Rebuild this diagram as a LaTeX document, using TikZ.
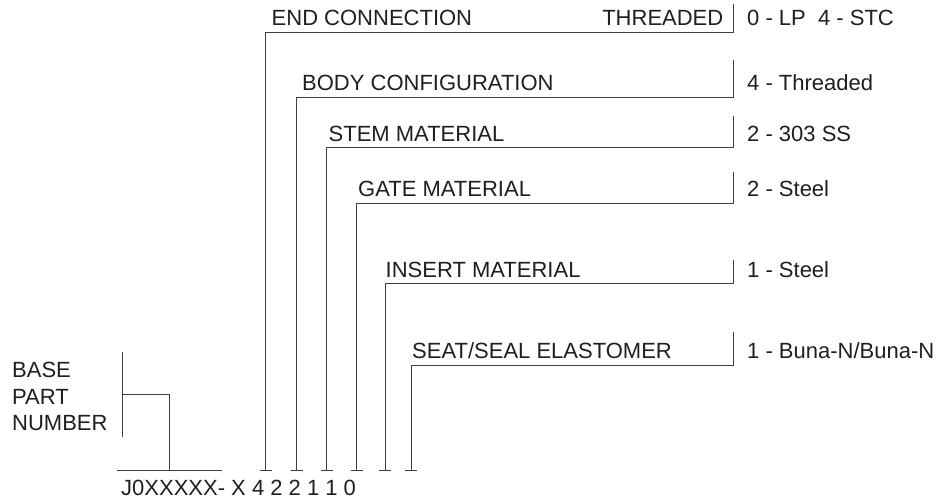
\documentclass[tikz,border=0pt]{standalone}
\usepackage{fontspec}
\setmainfont{Liberation Sans}
\begin{document}
\begin{tikzpicture}[x=1pt,y=-1pt,
  lbl/.style={inner sep=0pt, font=\fontsize{22}{26}\selectfont, text=black!88},
  wire/.style={draw=black!75, line width=1pt},
  tick/.style={wire}]
\useasboundingbox (0,0) rectangle (940,501);

% ---- option rows: top of value bar, corner, bottom of leg
\foreach \n/\xv/\yl/\yt in {e/265.7/32.3/4, b/296.7/97.3/60, s/326.7/147.7/116,
                            g/356.7/203/172, i/385/283.3/260, t/411/365/332}{
  \coordinate (\n T) at (733.3,\yt);
  \coordinate (\n C) at (733.3,\yl);
  \coordinate (\n B) at (\xv,470.7);
}
\foreach \n in {e,b,s,g,i,t}{
  \draw[wire] (\n T) -- (\n C) -| (\n B);
  \draw[tick] ([xshift=-6pt]\n B) -- ([xshift=6pt]\n B);
}

% ---- labels
\node[lbl, anchor=base west] (lend)  at (271.5,25)  {END CONNECTION};
\node[lbl, anchor=base east] (lthr)  at (723.5,25)  {THREADED};
\node[lbl, anchor=base west] (vend)  at (747,25)    {0 - LP\ \ 4 - STC};
\node[lbl, anchor=base west] (lbody) at (302,90)    {BODY CONFIGURATION};
\node[lbl, anchor=base west] (vbody) at (747,90)    {4 - Threaded};
\node[lbl, anchor=base west] (lstem) at (328.5,141) {STEM MATERIAL};
\node[lbl, anchor=base west] (vstem) at (747,141)   {2 - 303 SS};
\node[lbl, anchor=base west] (lgate) at (358,196)   {GATE MATERIAL};
\node[lbl, anchor=base west] (vgate) at (747,196)   {2 - Steel};
\node[lbl, anchor=base west] (lins)  at (385.5,277) {INSERT MATERIAL};
\node[lbl, anchor=base west] (vins)  at (747,277)   {1 - Steel};
\node[lbl, anchor=base west] (lseat) at (412,358)   {SEAT/SEAL ELASTOMER};
\node[lbl, anchor=base west] (vseat) at (747,358)   {1 - Buna-N/Buna-N};

% ---- base part number
\node[lbl, anchor=base west] (base1) at (12,377.5) {BASE};
\node[lbl, anchor=base west] (base2) at (12,404)   {PART};
\node[lbl, anchor=base west] (base3) at (12,430.5) {NUMBER};
\coordinate (bt) at (122.7,351.7);
\coordinate (bb) at (122.7,436.7);
\coordinate (bm) at (122.7,394);
\coordinate (bl) at (116.7,470.7);
\coordinate (br) at (221.7,470.7);
\coordinate (bd) at (169.3,470.7);
\draw[wire] (bt) -- (bb);
\draw[wire] (bm) -| (bd);
\draw[wire] (bl) -- (br);

\node[lbl, anchor=base west] (code) at (121,495) {J0XXXXX- X 4 2 2 1 1 0};
\end{tikzpicture}
\end{document}
